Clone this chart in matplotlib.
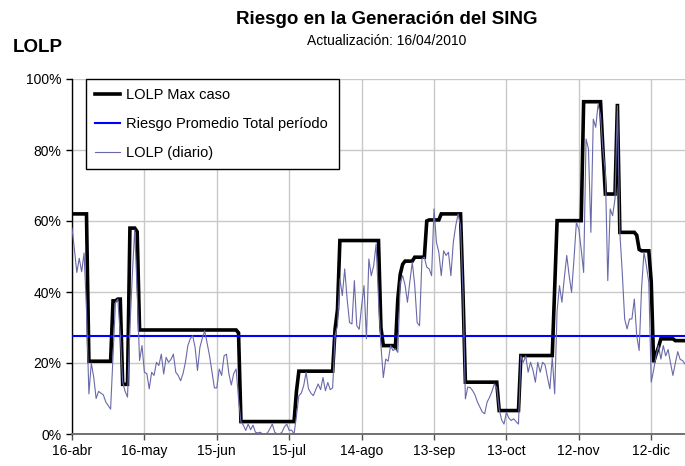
import matplotlib
matplotlib.use("Agg")
import matplotlib.pyplot as plt
import pandas as pd

plt.rcParams['font.family'] = ['Liberation Sans', 'DejaVu Sans']

# ---------------- data ----------------
start_date = "2010-04-16"

lolp_max_caso = [
    62, 62, 62, 62, 62, 62, 62, 20.5, 20.5, 20.5,
    20.5, 20.5, 20.5, 20.5, 20.5, 20.5, 20.5, 37.5, 37.5, 38,
    38, 14, 14, 14, 58, 58, 58, 57, 29.3, 29.3,
    29.3, 29.3, 29.3, 29.3, 29.3, 29.3, 29.3, 29.3, 29.3, 29.3,
    29.3, 29.3, 29.3, 29.3, 29.3, 29.3, 29.3, 29.3, 29.3, 29.3,
    29.3, 29.3, 29.3, 29.3, 29.3, 29.3, 29.3, 29.3, 29.3, 29.3,
    29.3, 29.3, 29.3, 29.3, 29.3, 29.3, 29.3, 29.3, 29.3, 28.5,
    3.5, 3.5, 3.5, 3.5, 3.5, 3.5, 3.5, 3.5, 3.5, 3.5,
    3.5, 3.5, 3.5, 3.5, 3.5, 3.5, 3.5, 3.5, 3.5, 3.5,
    3.5, 3.5, 3.5, 12, 17.7, 17.7, 17.7, 17.7, 17.7, 17.7,
    17.7, 17.7, 17.7, 17.7, 17.7, 17.7, 17.7, 17.7, 17.7, 29.5,
    35, 54.5, 54.5, 54.5, 54.5, 54.5, 54.5, 54.5, 54.5, 54.5,
    54.5, 54.5, 54.5, 54.5, 54.5, 54.5, 54.5, 54.5, 30, 24.9,
    24.9, 24.9, 24.9, 24.9, 24.4, 38, 45, 47.8, 48.7, 48.7,
    48.7, 48.7, 49.8, 49.8, 49.8, 49.8, 49.8, 60, 60.3, 60.3,
    60.3, 60.3, 60.3, 62, 62, 62, 62, 62, 62, 62,
    62, 62, 40, 14.6, 14.6, 14.6, 14.6, 14.6, 14.6, 14.6,
    14.6, 14.6, 14.6, 14.6, 14.6, 14.6, 14.6, 6.6, 6.6, 6.6,
    6.6, 6.6, 6.6, 6.6, 6.6, 6.6, 22.1, 22.1, 22.1, 22.1,
    22.1, 22.1, 22.1, 22.1, 22.1, 22.1, 22.1, 22.1, 22.1, 22.1,
    41, 60.1, 60.1, 60.1, 60.1, 60.1, 60.1, 60.1, 60.1, 60.1,
    60.1, 60.1, 93.6, 93.6, 93.6, 93.6, 93.6, 93.6, 93.6, 93.6,
    80, 67.6, 67.6, 67.6, 67.6, 67.6, 93, 56.8, 56.8, 56.8,
    56.8, 56.8, 56.8, 56.8, 56, 52, 51.6, 51.6, 51.6, 51.6,
    43, 20.2, 22.5, 24.4, 26.8, 26.8, 26.8, 26.8, 26.8, 26.8,
    26.3, 26.3, 26.3, 26.3, 26.3,
]

lolp_diario = [
    58, 52, 45.5, 49.5, 45.7, 51, 35, 11.3, 20, 16,
    10, 12, 11.5, 11, 9, 8, 7, 22, 37, 38,
    28, 14.6, 12, 10.4, 30, 45, 57.5, 40, 20.7, 24.9,
    17.4, 17, 12.7, 17.4, 16.5, 20.2, 19.3, 22.5, 16.9, 21.6,
    20.2, 21, 22.5, 17.4, 16.5, 15, 17, 20.2, 24.9, 26.8,
    27.7, 24.4, 17.9, 24.4, 27, 29.1, 25.5, 22, 17.4, 13,
    13, 18.3, 16.5, 22, 22.5, 17, 13.8, 17, 18.3, 10,
    3.4, 2.5, 1.0, 2.8, 1.2, 2.5, 0.5, 0.3, 0.5, 0.0,
    0.0, 0.3, 1.5, 2.8, 0.5, 0.0, 0.0, 0.5, 2.0, 2.8,
    1.0, 1.1, 0.0, 5, 10.8, 11.5, 13.6, 17.4, 12.7, 11.5,
    10.8, 12.5, 14.1, 12.5, 15.9, 12.2, 14.5, 12.5, 13, 27.7,
    30.5, 43.7, 39, 46.5, 38, 31.4, 31, 43.2, 30.5, 29.5,
    36, 41.8, 26.8, 49.3, 44.6, 47.4, 53.5, 38, 24.9, 15.9,
    21.1, 20.5, 24.9, 23.5, 24, 23, 42.7, 44.6, 42, 37.1,
    43, 48.4, 42, 31.4, 30.5, 49.3, 49.8, 47, 46.5, 44.6,
    63.4, 54, 51.2, 44.6, 51.6, 50.3, 51.2, 44.6, 54, 58.7,
    62, 58.7, 40, 9.9, 13.2, 13.1, 12.2, 11, 9, 7.6,
    6.2, 5.7, 9, 10.3, 12, 14.1, 13, 7, 4, 2.8,
    6.1, 4.5, 3.8, 4.3, 3.5, 2.8, 22, 20.2, 22, 17.4,
    20.2, 18, 14.6, 20.2, 17.4, 20.2, 19.5, 16, 12.7, 21.6,
    11.3, 34.7, 41.8, 37.1, 44, 50.3, 44.6, 39.9, 49.3, 59.6,
    57.7, 52, 45.5, 83.1, 80.3, 56.8, 88.7, 86.4, 92.9, 89.7,
    80, 73.7, 43.2, 63.4, 61.5, 66.2, 92.5, 56.8, 45.5, 32.4,
    29.6, 32.4, 32.4, 38, 27.7, 23.5, 41, 51.2, 47.4, 42.7,
    14.6, 18, 22, 24.9, 21.1, 24.9, 22, 23.8, 20, 16.5,
    20, 23.2, 21, 20.7, 19.7,
]

riesgo_promedio = 27.5

x_tick_dates = ["2010-04-16", "2010-05-16", "2010-06-15", "2010-07-15",
                "2010-08-14", "2010-09-13", "2010-10-13", "2010-11-12",
                "2010-12-12"]
x_tick_labels = ["16-abr", "16-may", "15-jun", "15-jul", "14-ago",
                 "13-sep", "13-oct", "12-nov", "12-dic"]
y_ticks = [0, 20, 40, 60, 80, 100]
y_tick_labels = ["0%", "20%", "40%", "60%", "80%", "100%"]

series_labels = ["LOLP Max caso", "Riesgo Promedio Total período", "LOLP (diario)"]

# ---------------- plot ----------------
dates = pd.date_range(start_date, periods=len(lolp_diario), freq="D")

fig = plt.figure(figsize=(6.85, 4.66), dpi=100)
ax = fig.add_axes([72 / 685, 32 / 466, 613 / 685, 355 / 466])

l1, = ax.plot(dates, lolp_max_caso, color="black", lw=2.6, zorder=3,
              solid_joinstyle="miter")
l2 = ax.axhline(riesgo_promedio, color="#0000FF", lw=1.5, zorder=4)
l3, = ax.plot(dates, lolp_diario, color="#6969AA", lw=0.8, zorder=5)

ax.set_xlim(dates[0], dates[-1])
ax.set_ylim(0, 100)

ax.set_xticks(pd.to_datetime(x_tick_dates))
ax.set_xticklabels(x_tick_labels, fontsize=10)
ax.set_yticks(y_ticks)
ax.set_yticklabels(y_tick_labels, fontsize=10)

ax.grid(True, color="#c8c8c8", lw=1.0, zorder=0)
ax.set_axisbelow(True)

for s in ["top", "right"]:
    ax.spines[s].set_visible(False)
ax.spines["left"].set_color("black")
ax.spines["left"].set_linewidth(1.0)
ax.spines["bottom"].set_color("#707070")
ax.spines["bottom"].set_linewidth(1.4)
ax.tick_params(axis="y", direction="out", length=4.5, width=1, colors="black", pad=3)
ax.tick_params(axis="x", direction="out", length=4.5, width=1, color="#505050",
               labelcolor="black", pad=3)

leg_x0 = (86 - 72) / 613
leg_w = (339 - 86) / 613
leg = ax.legend([l1, l2, l3], series_labels, loc="upper left",
                bbox_to_anchor=(leg_x0, 0.0, leg_w, 1.0), mode="expand",
                borderaxespad=0, fontsize=10.5, frameon=True, fancybox=False,
                edgecolor="black", framealpha=1, handlelength=1.7,
                handletextpad=0.4, labelspacing=1.0, borderpad=0.65)
leg.get_frame().set_linewidth(1.0)
leg.set_zorder(10)

fig.text(387 / 685, 1 - 20 / 466, "Riesgo en la Generación del SING",
         ha="center", va="center", fontsize=13.5, fontweight="bold")
fig.text(387 / 685, 1 - 41 / 466, "Actualización: 16/04/2010",
         ha="center", va="center", fontsize=10)
fig.text(13 / 685, 1 - 47 / 466, "LOLP", ha="left", va="center",
         fontsize=13.5, fontweight="bold")

fig.savefig("out.png", dpi=100)
